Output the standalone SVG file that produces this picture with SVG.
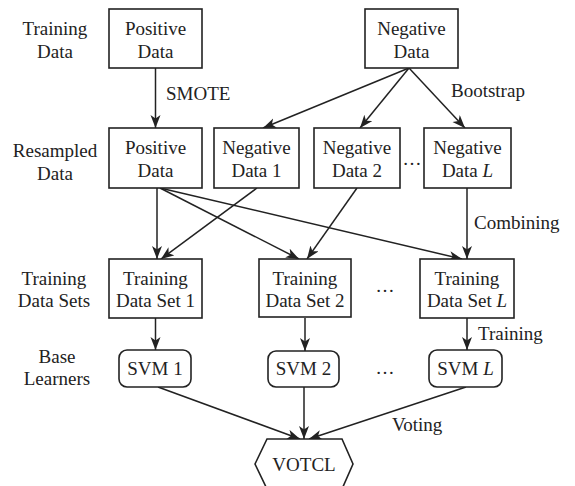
<svg xmlns="http://www.w3.org/2000/svg" width="575" height="486" viewBox="0 0 575 486">
  <style>
    text { font-family: "Liberation Serif", "Times New Roman", serif; font-size: 19px; fill: #222; text-anchor: middle; }
    .box { fill: #fff; stroke: #222; stroke-width: 1.6; }
    .edge { fill: none; stroke: #222; stroke-width: 1.5; marker-end: url(#arrow); }
    .lbl { text-anchor: start; }
    .it { font-style: italic; }
  </style>
  <defs>
    <marker id="arrow" markerUnits="userSpaceOnUse" markerWidth="14" markerHeight="12" refX="13" refY="5" orient="auto">
      <path d="M0,0 L13,5 L0,10 L3.5,5 z" fill="#222"/>
    </marker>
  </defs>

  <rect width="575" height="486" fill="#fff"/>

  <!-- row captions -->
  <g id="captions">
    <text x="55" y="35">Training</text>
    <text x="55" y="58">Data</text>
    <text x="55" y="157">Resampled</text>
    <text x="55" y="180">Data</text>
    <text x="54" y="285">Training</text>
    <text x="54" y="307">Data Sets</text>
    <text x="57" y="363">Base</text>
    <text x="57" y="385">Learners</text>
  </g>

  <!-- connectors -->
  <g id="connectors">
    <line class="edge" x1="155.5" y1="68" x2="155.5" y2="128"/>
    <line class="edge" x1="409" y1="68" x2="263" y2="128"/>
    <line class="edge" x1="409" y1="68" x2="360" y2="128"/>
    <line class="edge" x1="409" y1="68" x2="465" y2="128"/>
    <line class="edge" x1="157" y1="188" x2="157" y2="259"/>
    <line class="edge" x1="160" y1="188" x2="299" y2="259"/>
    <line class="edge" x1="160" y1="188" x2="462" y2="259"/>
    <line class="edge" x1="257" y1="188" x2="161" y2="259"/>
    <line class="edge" x1="357" y1="188" x2="307" y2="259"/>
    <line class="edge" x1="467" y1="188" x2="467" y2="259"/>
    <line class="edge" x1="155.5" y1="318" x2="155.5" y2="350"/>
    <line class="edge" x1="305" y1="318" x2="305" y2="351"/>
    <line class="edge" x1="467" y1="318" x2="467" y2="350"/>
    <line class="edge" x1="158" y1="387" x2="300" y2="439"/>
    <line class="edge" x1="304" y1="387" x2="304" y2="439"/>
    <line class="edge" x1="466" y1="387" x2="309" y2="439"/>

    <text class="lbl" x="166" y="100">SMOTE</text>
    <text class="lbl" x="451" y="97">Bootstrap</text>
    <text class="lbl" x="474" y="229">Combining</text>
    <text class="lbl" x="478" y="340">Training</text>
    <text class="lbl" x="392" y="431">Voting</text>
  </g>

  <!-- training data -->
  <g id="pos-data">
    <rect class="box" x="109" y="9" width="93" height="59"/>
    <text x="155.5" y="35">Positive</text>
    <text x="155.5" y="58">Data</text>
  </g>
  <g id="neg-data">
    <rect class="box" x="365" y="9" width="93" height="59"/>
    <text x="411.5" y="35">Negative</text>
    <text x="411.5" y="58">Data</text>
  </g>

  <!-- resampled data -->
  <g id="res-pos">
    <rect class="box" x="109" y="128" width="93" height="60"/>
    <text x="155.5" y="154">Positive</text>
    <text x="155.5" y="177">Data</text>
  </g>
  <g id="neg-1">
    <rect class="box" x="214" y="128" width="85" height="60"/>
    <text x="256.5" y="154">Negative</text>
    <text x="256.5" y="177">Data 1</text>
  </g>
  <g id="neg-2">
    <rect class="box" x="314" y="128" width="86" height="60"/>
    <text x="357" y="154">Negative</text>
    <text x="357" y="177">Data 2</text>
  </g>
  <text x="412" y="165">…</text>
  <g id="neg-L">
    <rect class="box" x="424" y="128" width="87" height="60"/>
    <text x="467.5" y="154">Negative</text>
    <text x="467.5" y="177">Data <tspan class="it">L</tspan></text>
  </g>

  <!-- training data sets -->
  <g id="tds-1">
    <rect class="box" x="109" y="259" width="93" height="59"/>
    <text x="155.5" y="285">Training</text>
    <text x="155.5" y="307">Data Set 1</text>
  </g>
  <g id="tds-2">
    <rect class="box" x="259" y="259" width="92" height="58"/>
    <text x="305" y="285">Training</text>
    <text x="305" y="307">Data Set 2</text>
  </g>
  <text x="385" y="292">…</text>
  <g id="tds-L">
    <rect class="box" x="420" y="259" width="94" height="59"/>
    <text x="467" y="285">Training</text>
    <text x="467" y="307">Data Set <tspan class="it">L</tspan></text>
  </g>

  <!-- base learners -->
  <g id="svm-1">
    <rect class="box" x="119" y="350" width="72" height="37" rx="8"/>
    <text x="155" y="375">SVM 1</text>
  </g>
  <g id="svm-2">
    <rect class="box" x="268" y="351" width="71" height="36" rx="8"/>
    <text x="303.5" y="375">SVM 2</text>
  </g>
  <text x="385" y="374">…</text>
  <g id="svm-L">
    <rect class="box" x="429" y="350" width="73" height="37" rx="8"/>
    <text x="465.5" y="375">SVM <tspan class="it">L</tspan></text>
  </g>

  <!-- ensemble output -->
  <g id="votcl">
    <polygon class="box" points="255,464 267,439 342,439 353,464 342,489 267,489"/>
    <text x="304" y="471">VOTCL</text>
  </g>
</svg>
